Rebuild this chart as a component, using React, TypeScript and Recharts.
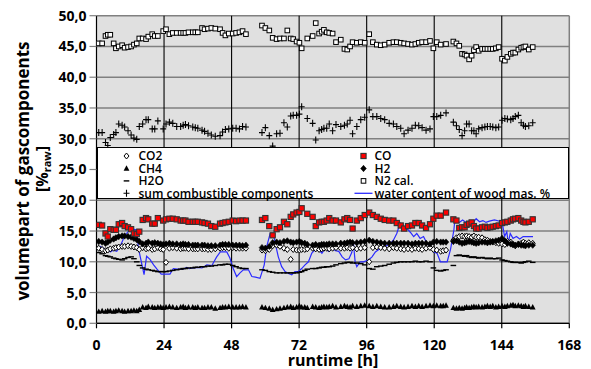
import React from 'react';
import { ComposedChart, Scatter, Line, XAxis, YAxis, CartesianGrid, Legend, ReferenceLine } from 'recharts';

// runtime [h] of the sampled gas analyses
const hours = [
  0.8, 2.0, 3.2, 4.0, 4.9, 6.1, 6.9, 7.9, 9.1, 10.0, 11.2, 12.3, 13.3, 14.3, 15.2, 16.4, 17.6, 18.4, 19.8, 20.7,
  21.8, 22.8, 23.7, 24.7, 25.9, 27.1, 28.5, 29.9, 30.8, 31.6, 32.7, 34.2, 35.1, 36.0, 37.5, 38.4, 39.6, 40.8, 42.2, 43.9,
  44.8, 45.8, 47.0, 48.4, 49.6, 50.8, 51.9, 53.1,
  58.8, 60.0, 61.4, 62.6, 64.0, 65.2, 66.6, 67.8, 69.0, 69.9,
  71.1, 72.1, 72.9, 74.0, 74.9, 76.8, 77.9, 79.1, 80.0, 80.8,
  81.8, 82.7, 83.9, 85.1, 86.8, 88.1, 89.1, 90.1, 91.0, 92.5,
  93.9, 95.3, 96.9, 98.2, 99.6, 101.0, 102.4, 104.0, 105.5, 106.7,
  108.1, 109.3, 110.7, 112.1, 113.3, 114.5, 115.7, 117.1, 118.5, 119.7,
  120.9, 122.3, 123.2, 124.2,
  126.8, 127.9, 128.9, 129.9, 130.8, 131.5, 132.4, 133.3, 134.1, 134.9,
  135.8, 137.0, 138.0, 138.9, 139.9, 140.8, 141.9, 142.9, 144.1, 145.1,
  146.0, 147.2, 148.0, 148.8, 149.9, 150.9, 151.7, 152.4, 153.6, 155.0,
];

const n2Cal = [
  45.5, 45.5, 46.7, 46.9, 46.9, 45.5, 44.7, 45.0, 45.2, 44.8, 44.9, 45.0, 45.3, 45.5, 46.3, 46.3, 46.2, 46.6, 47.0, 46.7,
  46.7, null, 47.5, 47.8, 47.0, 47.2, 47.2, 47.2, 47.2, 47.2, 47.3, 47.3, 47.3, 47.3, 48.0, 47.8, 47.9, 48.0, 47.9, 47.8,
  47.2, 46.8, 47.1, 47.1, 47.2, 47.3, 47.5, 47.0,
  48.4, 48.0, 47.6, 46.4, 46.2, 46.3, 46.3, 47.6, 46.3, 46.2,
  45.8, 45.6, 44.7, null, 46.3, 46.7, 48.8, 47.1, 47.4, 47.7,
  47.3, 47.2, 47.1, 45.7, 46.1, 44.6, 44.5, 45.0, 45.7, 45.6,
  45.7, 45.6, 47.0, 45.7, 45.3, 45.2, 45.3, 45.6, 45.7, 45.7,
  45.6, 45.5, 45.4, 45.3, 45.4, 45.6, 45.7, 45.7, 45.9, 44.7,
  45.7, 45.3, null, 45.4,
  45.8, 45.5, 45.1, 43.8, 43.7, 43.5, 42.9, 43.5, 44.4, 44.9,
  44.3, 44.6, 44.6, 44.6, 44.6, 44.6, 44.7, 44.9, 43.0, 42.7,
  43.3, 43.8, 44.0, 44.0, 44.5, 44.8, 44.9, 45.0, 44.5, 44.9,
];

const sumCombustible = [
  31.0, 31.0, 29.4, 28.9, 30.2, 30.7, 31.0, 32.4, 32.2, 31.9, 31.3, 30.6, 30.1, 29.9, 32.0, 32.4, 33.1, 33.1, 31.6, 31.6,
  32.9, null, 31.6, 32.4, 32.7, 32.5, 32.0, 32.0, 32.2, 32.3, 32.1, 31.9, 31.8, 31.7, 31.4, 31.2, 30.9, 30.6, 30.4, 30.5,
  31.1, 31.5, 31.6, 31.7, 31.7, 31.6, 32.0, 31.9,
  31.0, 31.8, 30.5, 28.8, 30.8, 30.9, 32.6, 31.9, 33.7, 33.8,
  33.8, 34.0, 35.2, null, 33.3, 32.5, 29.8, 31.3, 31.5, 31.7,
  31.7, 32.4, 31.3, 32.3, 32.0, 32.2, 32.4, 33.0, 30.8, 32.0,
  33.1, 33.5, 34.7, 33.6, 33.6, 33.3, 33.1, 32.5, 32.4, 32.0,
  31.7, 30.8, 31.4, 31.7, 32.2, 32.1, 31.8, 31.4, 31.6, 33.6,
  33.6, 33.8, null, 34.2,
  32.7, 32.1, 31.5, 30.5, 31.3, 32.4, 32.4, 31.3, 31.3, 30.8,
  31.6, 31.8, 31.9, 32.0, 32.0, 31.9, 31.8, 31.9, 33.0, 33.3,
  33.2, 33.1, 33.3, 33.6, 33.8, 32.6, 32.2, 32.0, 32.1, 32.6,
];

const co = [
  16.0, 15.9, 14.6, 14.1, 15.3, 15.2, 15.2, 16.1, 16.3, 15.8, 15.6, 15.3, 14.6, 14.5, 14.9, 16.8, 17.1, 16.9, 16.2, 16.2,
  17.1, null, 16.7, 16.9, 17.0, 17.0, 16.9, 16.7, 16.7, 16.7, 16.5, 16.5, 16.5, 16.5, 16.4, 16.3, 16.2, 15.8, 15.7, 16.2,
  16.3, 16.4, 16.5, 16.7, 16.6, 16.7, 16.7, 16.7,
  16.8, 17.1, 15.8, 14.3, 15.3, 15.6, 16.5, 16.1, 17.3, 17.7,
  18.0, 18.1, 18.7, null, 17.8, 17.3, 15.8, 16.4, 16.5, 16.5,
  16.7, 17.1, 16.7, 16.7, 16.4, 16.9, 17.1, 16.8, 15.4, 16.7,
  17.1, 17.6, 18.0, 17.6, 17.3, 17.0, 16.8, 16.7, 16.7, 16.3,
  15.9, 15.4, 15.8, 15.9, 16.3, 16.3, 15.9, 15.5, 16.1, 17.0,
  17.5, 17.5, null, 18.0,
  16.9, 16.7, 15.5, 15.6, 15.6, 16.0, 16.2, 16.4, 15.8, 15.4,
  15.4, 15.6, 15.7, 15.5, 15.6, 15.7, 15.8, 15.9, 16.3, 16.4,
  16.5, 16.7, 16.9, 17.0, 17.1, 16.7, 16.5, 16.4, 16.5, 16.9,
];

const h2 = [
  13.3, 13.2, 13.0, 13.2, 13.5, 13.7, 13.9, 14.1, 14.2, 14.2, 14.1, 14.0, 13.8, 13.6, 13.3, 12.9, 13.0, 13.2, 13.0, 13.1,
  13.0, 12.9, 12.8, 12.9, 13.0, 12.9, 12.9, 12.8, 12.9, 12.8, 12.8, 12.7, 12.7, 12.7, 12.7, 12.7, 12.6, 12.6, 12.6, 12.7,
  12.8, 12.8, 12.8, 12.7, 12.7, 12.7, 12.6, 12.7,
  12.3, 12.2, 12.5, 13.1, 13.2, 13.1, 13.3, 13.4, 13.2, 13.1,
  13.2, 13.3, 13.1, 13.0, 12.8, 12.7, 12.8, 12.7, 12.8, 12.8,
  12.8, 12.9, 12.9, 12.9, 13.0, 13.0, 13.1, 13.2, 13.1, 13.1,
  13.2, 13.3, 13.5, 13.3, 13.2, 13.1, 13.0, 13.0, 13.0, 13.0,
  13.0, 13.0, 13.0, 12.9, 13.0, 13.0, 13.0, 13.0, 12.9, 13.2,
  13.3, 13.2, 13.2, 13.2,
  13.3, 13.4, 13.2, 13.0, 13.1, 13.2, 13.3, 13.2, 13.1, 13.0,
  13.1, 13.2, 13.2, 13.1, 13.2, 13.3, 13.4, 13.5, 13.8, 13.4,
  13.0, 12.9, 12.8, 12.7, 12.8, 12.7, 12.7, 12.6, 12.7, 12.7,
];

const co2 = [
  12.2, 12.0, 11.8, 11.9, 12.1, 12.2, 12.3, 12.4, 12.5, 12.5, 12.6, 12.5, 12.4, 12.3, 12.0, 12.3, 12.1, 12.2, 12.0, 12.1,
  12.3, 12.1, 12.0, 9.9, 12.2, 12.3, 12.2, 12.1, 12.2, 12.2, 12.1, 12.1, 12.1, 12.1, 12.1, 12.1, 12.0, 12.0, 12.1, 12.2,
  12.3, 12.3, 12.2, 12.3, 12.2, 12.2, 12.2, 12.2,
  11.9, 11.8, 12.0, 12.6, 12.7, 12.5, 12.2, 12.0, 10.4, 12.0,
  11.9, 11.9, 12.0, 12.0, 12.1, 12.2, 12.1, 12.0, 12.1, 12.2,
  12.2, 12.1, 12.2, 12.3, 12.2, 12.2, 12.3, 12.2, 12.3, 12.1,
  12.2, 12.3, 10.0, 12.3, 12.4, 12.3, 12.2, 12.1, 12.3, 12.2,
  12.1, 12.0, 12.1, 12.0, 12.2, 12.1, 12.0, 12.2, 12.3, 12.0,
  11.9, 11.7, 11.8, 11.9,
  13.5, 13.9, 14.1, 14.2, 14.1, 14.2, 14.1, 14.0, 14.2, 14.0,
  14.0, 13.9, 13.6, 13.5, 13.3, 13.2, 13.1, 13.0, 12.9, 12.8,
  13.3, 13.2, 12.8, 12.6, 12.9, 13.0, 13.2, 13.0, 13.1, 13.0,
];

const h2o = [
  11.5, 11.3, 11.0, 10.9, 10.8, 10.6, 10.5, 10.4, 10.3, 10.5, 10.7, 10.8, 10.5, 10.0, 9.4, 9.0, 8.8, 8.7, 8.6, 8.5,
  8.4, 8.4, 8.4, 8.4, 8.5, 8.6, 8.7, 8.8, 8.9, 8.9, 9.0, 9.0, 9.1, 9.1, 9.2, 9.2, 9.3, 9.3, 9.4, 9.5,
  9.5, 9.6, 9.6, 9.4, 9.2, 9.0, 8.9, 8.9,
  8.7, 8.6, 8.4, 8.3, 8.2, 8.2, 8.2, 8.2, 8.2, 8.2,
  8.2, 8.3, 8.4, 8.6, 8.8, 8.9, 8.9, 9.0, 9.1, 9.1,
  9.2, 9.2, 9.3, 9.5, 9.7, 9.8, 9.9, 9.9, 9.8, 9.8,
  9.7, 9.5, 8.9, 8.8, 9.2, 9.3, 9.4, 9.6, 9.8, 9.9,
  10.0, 10.0, 10.0, 10.0, 10.1, 10.0, 10.0, 10.1, 10.0, 9.0,
  8.6, 8.5, 8.6, 8.7,
  9.4, 11.0, 11.1, 11.0, 10.9, 11.0, 10.8, 10.7, 10.8, 10.7,
  10.6, 10.7, 10.6, 10.5, 10.6, 10.5, 10.5, 10.6, 10.3, 10.2,
  10.1, 10.0, 9.9, 9.9, 9.9, 9.8, 9.9, 10.0, 10.1, 9.9,
];

const ch4 = [
  1.9, 2.0, 1.9, 2.0, 2.0, 1.9, 2.0, 2.1, 2.0, 1.9, 2.0, 2.0, 2.1, 2.0, 2.2, 2.6, 2.5, 2.7, 2.6, 2.5,
  2.6, 2.6, 2.5, 2.6, 2.7, 2.6, 2.5, 2.6, 2.7, 2.5, 2.6, 2.6, 2.5, 2.6, 2.5, 2.5, 2.6, 2.6, 2.4, 2.5,
  2.6, 2.6, 2.7, 2.6, 2.6, 2.6, 2.7, 2.6,
  2.6, 2.5, 2.4, 2.2, 2.3, 2.4, 2.5, 2.6, 2.7, 2.5,
  2.6, 2.8, 2.6, 2.6, 2.5, 2.7, 2.6, 2.5, 2.6, 2.7,
  2.6, 2.7, 2.8, 2.6, 2.7, 2.8, 2.7, 2.6, 2.8, 2.7,
  2.8, 2.9, 2.8, 2.7, 2.8, 2.7, 2.6, 2.6, 2.7, 2.8,
  2.7, 2.6, 2.7, 2.8, 2.7, 2.8, 2.7, 2.8, 2.9, 2.8,
  2.9, 2.8, 2.8, 2.9,
  2.5, 2.4, 2.5, 2.4, 2.5, 2.6, 2.5, 2.6, 2.7, 2.6,
  2.7, 2.6, 2.7, 2.8, 2.7, 2.8, 2.6, 2.7, 2.8, 2.7,
  2.8, 2.9, 3.0, 2.8, 2.9, 2.8, 2.7, 2.8, 2.7, 2.6,
];

// water content of wood, mass %
const waterHours = [
  1.2, 2.5, 3.8, 5.0, 6.0, 7.2, 8.5, 10.0, 11.2, 12.8, 14.3, 14.9, 16.9, 17.8, 19.0, 20.3, 21.5, 23.0, 24.5, 26.1,
  27.3, 28.8, 30.8, 32.0, 33.0, 34.4, 36.0, 37.5, 39.2, 41.0, 42.7, 44.0, 46.3, 47.4, 48.5, 49.8, 51.0, 52.2, 54.0, 55.2,
  56.5, 58.1, 59.6, 60.5, 61.7, 62.8, 64.0, 64.6, 65.8, 67.0, 68.2, 69.4, 70.5, 71.7, 72.9, 74.1, 75.3, 76.5, 77.7, 78.9,
  80.1, 81.3, 82.5, 83.7, 84.9, 86.1, 87.3, 88.5, 89.7, 90.7, 91.3, 91.9, 92.5, 93.7, 94.9, 96.7, 97.9, 99.1, 100.9, 102.7,
  104.4, 105.5, 106.7, 107.9, 109.1, 110.3, 111.5, 112.7, 113.8, 115.0, 116.2, 117.4, 118.6, 119.8, 121.0, 122.2, 123.4, 124.6, 125.8, 127.0,
  127.4, 128.9, 130.1, 131.3, 132.5, 133.7, 134.9, 136.1, 137.3, 138.4, 139.6, 141.4, 143.2, 144.3, 145.0, 145.8, 146.3, 147.0, 148.0, 149.2,
  150.4, 151.6, 153.0, 154.0, 155.1,
];
const waterContent = [
  12.5, 12.2, 11.8, 11.6, 11.9, 11.7, 12.6, 14.2, 14.9, 15.3, 15.2, 12.2, 7.9, 10.9, 10.4, 9.5, 8.8, 8.0, 8.0, 8.0,
  8.9, 8.8, 8.8, 9.1, 8.9, 9.0, 9.1, 9.0, 9.5, 9.4, 10.8, 11.6, 11.6, 10.6, 9.0, 7.6, 8.2, 8.7, 8.7, 7.6,
  7.5, 7.3, 9.5, 12.5, 14.6, 14.6, 12.0, 10.8, 9.2, 8.4, 8.1, 7.9, 8.4, 8.4, 8.9, 9.5, 10.0, 11.4, 12.0, 12.0,
  11.4, 12.2, 11.7, 12.2, 11.8, 11.7, 10.8, 10.3, 10.5, 11.5, 13.0, 10.0, 9.2, 10.0, 10.0, 10.3, 10.8, 11.6, 12.2, 12.5,
  13.0, 13.5, 14.6, 16.3, 15.7, 15.4, 14.8, 14.1, 14.6, 13.8, 14.1, 13.0, 12.5, 11.6, 11.4, 10.0, 10.0, 10.0, 12.0, 15.2,
  17.1, 16.4, 16.8, 16.4, 16.6, 16.3, 17.0, 16.5, 16.7, 16.4, 16.6, 16.8, 16.6, 16.0, 14.1, 14.9, 13.0, 14.6, 13.8, 14.1,
  13.7, 14.1, 14.1, 14.1, 14.1,
];

const xTicks = [0, 24, 48, 72, 96, 120, 144, 168];
const dayLines = [24, 48, 72, 96, 120, 144];
const yTicks = [0, 5, 10, 15, 20, 25, 30, 35, 40, 45, 50];

const legendLeft = ['CO2', 'CH4', 'H2O', 'sum combustible components'];
const legendRight = ['CO', 'H2', 'N2 cal.', 'water content of wood mas. %'];

const pointsOf = (values: (number | null)[]) =>
  hours.map((t, i) => ({ t, v: values[i] })).filter((p) => p.v !== null && p.v !== undefined);
const waterData = waterHours.map((t, i) => ({ t, w: waterContent[i] }));

type Kind = 'openDiamond' | 'redSquare' | 'triangle' | 'diamond' | 'dash' | 'openSquare' | 'plus';

const MarkerPath = ({ kind, cx, cy }: { kind: Kind; cx: number; cy: number }) => {
  switch (kind) {
    case 'openDiamond':
      return <path d={`M${cx},${cy - 3}L${cx + 2.5},${cy}L${cx},${cy + 3}L${cx - 2.5},${cy}Z`} fill="#fff" stroke="#000" strokeWidth={1} />;
    case 'diamond':
      return <path d={`M${cx},${cy - 3.2}L${cx + 2.8},${cy}L${cx},${cy + 3.2}L${cx - 2.8},${cy}Z`} fill="#000" stroke="#000" strokeWidth={0.6} />;
    case 'redSquare':
      return <rect x={cx - 2.6} y={cy - 2.6} width={5.2} height={5.2} fill="#ff0000" stroke="#333" strokeWidth={1.1} />;
    case 'openSquare':
      return <rect x={cx - 2.3} y={cy - 2.3} width={4.6} height={4.6} fill="#fff" stroke="#000" strokeWidth={1} />;
    case 'triangle':
      return <path d={`M${cx},${cy - 3.2}L${cx + 2.9},${cy + 2.2}L${cx - 2.9},${cy + 2.2}Z`} fill="#000" />;
    case 'dash':
      return <rect x={cx - 2.8} y={cy - 0.7} width={5.6} height={1.4} fill="#000" />;
    case 'plus':
    default:
      return (
        <path d={`M${cx - 3},${cy}H${cx + 3}M${cx},${cy - 3.5}V${cy + 3.5}`} stroke="#000" strokeWidth={1.1} fill="none" />
      );
  }
};

const shapeOf = (kind: Kind) => (props: any) => {
  const { cx, cy } = props;
  if (typeof cx !== 'number' || typeof cy !== 'number' || isNaN(cy)) return <g />;
  return <MarkerPath kind={kind} cx={cx} cy={cy} />;
};

const LEG_W = 472.8;
const LEG_H = 52.8;

const LegendBox = () => {
  const rows = [9.3, 21.8, 34.2, 46.6];
  const leftKinds: Kind[] = ['openDiamond', 'triangle', 'dash', 'plus'];
  const rightKinds: (Kind | 'line')[] = ['redSquare', 'diamond', 'openSquare', 'line'];
  const textStyle = { fontFamily: 'Open Sans', fontSize: 12, fontWeight: 600, fill: '#000' } as const;
  return (
    <div style={{ width: LEG_W, height: LEG_H, background: '#fff', border: '1.3px solid #000', boxSizing: 'border-box' }}>
      <svg width={LEG_W - 2.6} height={LEG_H - 2.6} style={{ display: 'block', overflow: 'visible' }}>
        {legendLeft.map((name, i) => (
          <g key={name}>
            <MarkerPath kind={leftKinds[i]} cx={28.5} cy={rows[i] - 1.3} />
            <text x={40.5} y={rows[i] - 1.3} dy="0.36em" style={textStyle}>{name}</text>
          </g>
        ))}
        {legendRight.map((name, i) => (
          <g key={name}>
            {rightKinds[i] === 'line' ? (
              <line x1={256.5} x2={274.5} y1={rows[i] - 1.3} y2={rows[i] - 1.3} stroke="#2b2bff" strokeWidth={1.3} />
            ) : (
              <MarkerPath kind={rightKinds[i] as Kind} cx={265.5} cy={rows[i] - 1.3} />
            )}
            <text x={276.5} y={rows[i] - 1.3} dy="0.36em" style={textStyle}>{name}</text>
          </g>
        ))}
      </svg>
    </div>
  );
};

const tickStyle = { fill: '#000', fontSize: 14, fontFamily: 'Open Sans', fontWeight: 700 };

export default function App() {
  return (
    <div style={{ position: 'absolute', left: 0, top: 0, width: 591, height: 369, background: '#fff', overflow: 'hidden' }}>
      <ComposedChart width={591} height={369} margin={{ top: 15.7, right: 21.7, bottom: 0, left: 36.5 }}>
        <CartesianGrid vertical={false} stroke="#808080" strokeWidth={1.5} fill="#e0e0e0" fillOpacity={1} />
        {dayLines.map((d) => (
          <ReferenceLine key={d} x={d} stroke="#000" strokeWidth={1.1} />
        ))}
        <ReferenceLine x={168} stroke="#808080" strokeWidth={1.5} />
        <XAxis
          type="number"
          dataKey="t"
          domain={[0, 168]}
          ticks={xTicks}
          interval={0}
          height={45.7}
          tickSize={5}
          tickMargin={12}
          axisLine={{ stroke: '#000', strokeWidth: 1.2 }}
          tickLine={{ stroke: '#000', strokeWidth: 1.2 }}
          tick={tickStyle}
          allowDataOverflow
        />
        <YAxis
          type="number"
          domain={[0, 50]}
          ticks={yTicks}
          interval={0}
          width={60}
          tickSize={7}
          tickMargin={3}
          axisLine={{ stroke: '#000', strokeWidth: 1.2 }}
          tickLine={{ stroke: '#808080', strokeWidth: 1.2 }}
          tick={tickStyle}
          tickFormatter={(v: number) => v.toFixed(1).replace('.', ',')}
          allowDataOverflow
        />
        <Legend
          layout="horizontal"
          verticalAlign="middle"
          align="center"
          wrapperStyle={{ left: 96.5, top: 146.7, width: LEG_W, height: LEG_H }}
          content={() => <LegendBox />}
        />
        <Scatter name="N2 cal." data={pointsOf(n2Cal)} dataKey="v" shape={shapeOf('openSquare')} isAnimationActive={false} />
        <Scatter name="sum combustible components" data={pointsOf(sumCombustible)} dataKey="v" shape={shapeOf('plus')} isAnimationActive={false} />
        <Scatter name="CH4" data={pointsOf(ch4)} dataKey="v" shape={shapeOf('triangle')} isAnimationActive={false} />
        <Scatter name="H2O" data={pointsOf(h2o)} dataKey="v" shape={shapeOf('dash')} isAnimationActive={false} />
        <Line
          name="water content of wood mas. %"
          data={waterData}
          dataKey="w"
          stroke="#2b2bff"
          strokeWidth={1.2}
          dot={false}
          activeDot={false}
          isAnimationActive={false}
        />
        <Scatter name="CO2" data={pointsOf(co2)} dataKey="v" shape={shapeOf('openDiamond')} isAnimationActive={false} />
        <Scatter name="H2" data={pointsOf(h2)} dataKey="v" shape={shapeOf('diamond')} isAnimationActive={false} />
        <Scatter name="CO" data={pointsOf(co)} dataKey="v" shape={shapeOf('redSquare')} isAnimationActive={false} />
      </ComposedChart>
      <div
        style={{
          position: 'absolute', left: 23 - 160, top: 171 - 10, width: 320, height: 20, lineHeight: '20px',
          textAlign: 'center', transform: 'rotate(-90deg)', fontFamily: 'Open Sans', fontWeight: 700, fontSize: 17,
          whiteSpace: 'nowrap', color: '#000',
        }}
      >
        volumepart of gascomponents
      </div>
      <div
        style={{
          position: 'absolute', left: 42 - 60, top: 169 - 10, width: 120, height: 20, lineHeight: '20px',
          textAlign: 'center', transform: 'rotate(-90deg)', fontFamily: 'Open Sans', fontWeight: 700, fontSize: 16,
          whiteSpace: 'nowrap', color: '#000',
        }}
      >
        [%<span style={{ fontSize: 11, position: 'relative', top: 3 }}>raw</span>]
      </div>
      <div
        style={{
          position: 'absolute', left: 333 - 80, top: 353.8, width: 160, height: 12, lineHeight: '12px',
          textAlign: 'center', fontFamily: 'Open Sans', fontWeight: 700, fontSize: 16, whiteSpace: 'nowrap', color: '#000',
        }}
      >
        runtime [h]
      </div>
    </div>
  );
}
